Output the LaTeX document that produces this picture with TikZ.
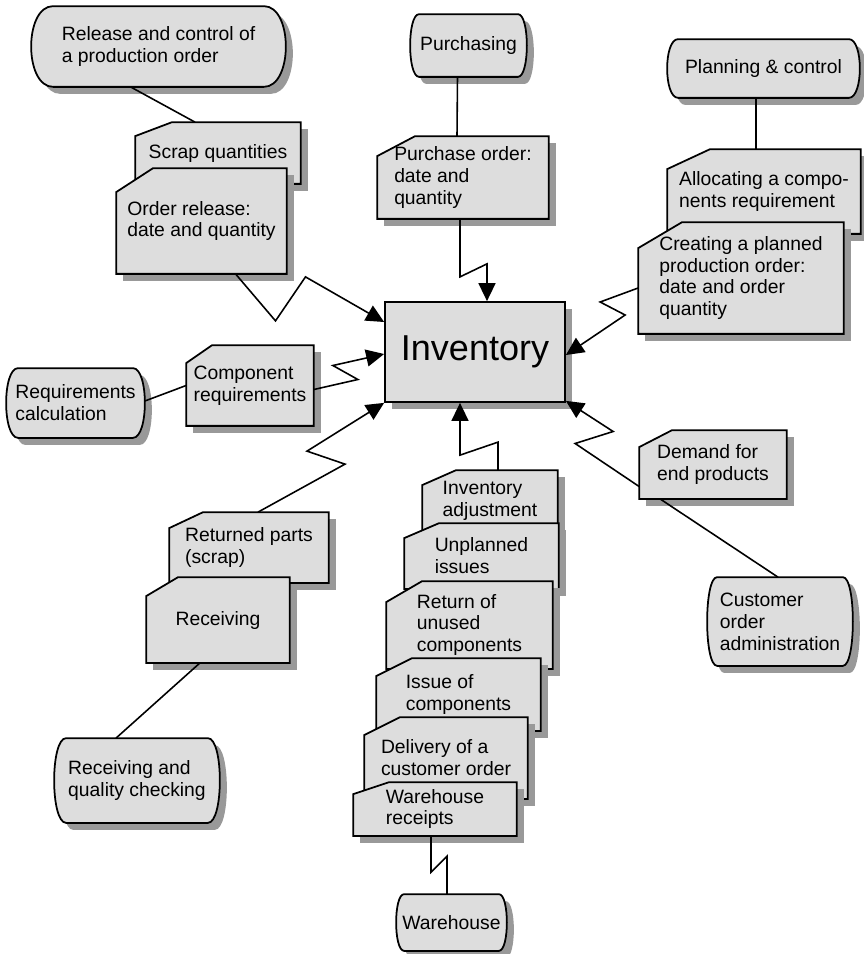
\documentclass[tikz,border=0pt]{standalone}
\usepackage{fontspec}
\setmainfont{Liberation Sans}
\usetikzlibrary{calc,shadows,arrows.meta}
\definecolor{boxgray}{HTML}{DDDDDD}
\definecolor{shadegray}{HTML}{999999}

\makeatletter
\newdimen\shpL \newdimen\shpR \newdimen\shpT \newdimen\shpB
\newdimen\shpa \newdimen\shpb
\pgfkeys{/pgf/side bulge/.initial=0.2cm,
         /pgf/cut x/.initial=0.72cm,
         /pgf/cut y/.initial=0.36cm}
% process box: straight top and bottom, bulging sides
\pgfdeclareshape{barrel}{%
  \inheritsavedanchors[from=rectangle]%
  \inheritanchorborder[from=rectangle]%
  \inheritanchor[from=rectangle]{center}%
  \inheritanchor[from=rectangle]{north}%
  \inheritanchor[from=rectangle]{south}%
  \inheritanchor[from=rectangle]{east}%
  \inheritanchor[from=rectangle]{west}%
  \inheritanchor[from=rectangle]{north east}%
  \inheritanchor[from=rectangle]{north west}%
  \inheritanchor[from=rectangle]{south east}%
  \inheritanchor[from=rectangle]{south west}%
  \backgroundpath{%
    \pgfmathsetlength\shpa{\pgfkeysvalueof{/pgf/side bulge}}%
    \shpb=\shpa \divide\shpb by 3
    \southwest \shpL=\pgf@x \shpB=\pgf@y
    \northeast \shpR=\pgf@x \shpT=\pgf@y
    \pgfpathmoveto{\pgfpoint{\shpL+\shpa}{\shpT}}%
    \pgfpathlineto{\pgfpoint{\shpR-\shpa}{\shpT}}%
    \pgfpathcurveto{\pgfpoint{\shpR+\shpb}{\shpT}}{\pgfpoint{\shpR+\shpb}{\shpB}}{\pgfpoint{\shpR-\shpa}{\shpB}}%
    \pgfpathlineto{\pgfpoint{\shpL+\shpa}{\shpB}}%
    \pgfpathcurveto{\pgfpoint{\shpL-\shpb}{\shpB}}{\pgfpoint{\shpL-\shpb}{\shpT}}{\pgfpoint{\shpL+\shpa}{\shpT}}%
    \pgfpathclose
  }%
}
% information object: rectangle with the top left corner cut off
\pgfdeclareshape{cutnote}{%
  \inheritsavedanchors[from=rectangle]%
  \inheritanchorborder[from=rectangle]%
  \inheritanchor[from=rectangle]{center}%
  \inheritanchor[from=rectangle]{north}%
  \inheritanchor[from=rectangle]{south}%
  \inheritanchor[from=rectangle]{east}%
  \inheritanchor[from=rectangle]{west}%
  \inheritanchor[from=rectangle]{north east}%
  \inheritanchor[from=rectangle]{north west}%
  \inheritanchor[from=rectangle]{south east}%
  \inheritanchor[from=rectangle]{south west}%
  \backgroundpath{%
    \pgfmathsetlength\shpa{\pgfkeysvalueof{/pgf/cut x}}%
    \pgfmathsetlength\shpb{\pgfkeysvalueof{/pgf/cut y}}%
    \southwest \shpL=\pgf@x \shpB=\pgf@y
    \northeast \shpR=\pgf@x \shpT=\pgf@y
    \pgfpathmoveto{\pgfpoint{\shpL}{\shpB}}%
    \pgfpathlineto{\pgfpoint{\shpL}{\shpT-\shpb}}%
    \pgfpathlineto{\pgfpoint{\shpL+\shpa}{\shpT}}%
    \pgfpathlineto{\pgfpoint{\shpR}{\shpT}}%
    \pgfpathlineto{\pgfpoint{\shpR}{\shpB}}%
    \pgfpathclose
  }%
}
\makeatother

\tikzset{
  shade/.style={drop shadow={shadow xshift=0.14cm,shadow yshift=-0.14cm,fill=shadegray,opacity=1}},
  func/.style={shape=barrel,draw,line width=1pt,fill=boxgray,shade,align=left,inner sep=1pt},
  info/.style={shape=cutnote,draw,line width=1pt,fill=boxgray,shade,align=left,inner sep=1pt},
  store/.style={rectangle,draw,line width=1pt,fill=boxgray,shade,font=\fontsize{20.5}{24}\selectfont},
  link/.style={line width=0.9pt},
  flow/.style={-{Triangle[length=0.36cm,width=0.34cm]},line width=0.9pt},
}

\begin{document}
\begin{tikzpicture}[x=0.02cm,y=-0.02cm,font=\fontsize{11}{12.5}\selectfont]
\useasboundingbox (0,0) rectangle (863,954);

% functions
\node[func,minimum width=5.06cm,minimum height=1.58cm,side bulge=0.44cm] (rel) at (158.5,46.5) {Release and control of\\a production order};
\node[func,minimum width=2.30cm,minimum height=1.22cm,side bulge=0.18cm] (pur) at (468.5,45.5) {Purchasing};
\node[func,minimum width=3.82cm,minimum height=1.14cm,side bulge=0.22cm] (plan) at (763.5,68.5) {Planning \& control};
\node[func,minimum width=2.74cm,minimum height=1.36cm,side bulge=0.24cm] (req) at (75.5,403) {Requirements\\calculation};
\node[func,minimum width=2.88cm,minimum height=1.74cm,side bulge=0.20cm] (cust) at (780,621.5) {Customer\\order\\administration};
\node[func,minimum width=3.28cm,minimum height=1.66cm,side bulge=0.24cm] (rqc) at (137,780.5) {Receiving and\\quality checking};
\node[func,minimum width=2.18cm,minimum height=1.10cm,side bulge=0.16cm] (wh) at (451.5,922.5) {Warehouse};

% information objects
\node[info,minimum width=3.28cm,minimum height=1.20cm,cut x=0.74cm,cut y=0.28cm] (scrap) at (218,153) {Scrap quantities};
\node[info,minimum width=3.38cm,minimum height=2.08cm,cut x=0.74cm,cut y=0.48cm] (ordrel) at (201.5,221) {Order release:\\date and quantity};
\node[info,minimum width=3.40cm,minimum height=1.62cm,cut x=0.76cm,cut y=0.40cm] (porder) at (463,177.5) {Purchase order:\\date and\\quantity};
\node[info,minimum width=3.84cm,minimum height=1.66cm,cut x=0.86cm,cut y=0.40cm] (alloc) at (764,191.5) {Allocating a compo-\\nents requirement};
\node[info,minimum width=4.08cm,minimum height=2.20cm,cut x=0.88cm,cut y=0.52cm] (create) at (741,278) {Creating a planned\\production order:\\date and order\\quantity};
\node[info,minimum width=2.52cm,minimum height=1.58cm,cut x=0.52cm,cut y=0.36cm] (comp) at (250,385.5) {Component\\requirements};
\node[info,minimum width=2.92cm,minimum height=1.34cm,cut x=0.66cm,cut y=0.34cm] (demand) at (713,464.5) {Demand for\\end products};
\node[info,minimum width=3.16cm,minimum height=1.38cm,cut x=0.68cm,cut y=0.32cm] (retp) at (249,547.5) {Returned parts\\(scrap)};
\node[info,minimum width=2.84cm,minimum height=1.68cm,cut x=0.64cm,cut y=0.38cm] (recv) at (218,620) {Receiving};
\node[info,minimum width=2.68cm,minimum height=1.18cm,cut x=0.68cm,cut y=0.30cm] (invadj) at (490,500.5) {Inventory\\adjustment};
\node[info,minimum width=3.06cm,minimum height=1.28cm,cut x=0.70cm,cut y=0.30cm] (unpl) at (481.5,556) {Unplanned\\issues};
\node[info,minimum width=3.30cm,minimum height=1.72cm,cut x=0.72cm,cut y=0.42cm] (ret) at (469.5,625) {Return of\\unused\\components};
\node[info,minimum width=3.26cm,minimum height=1.42cm,cut x=0.72cm,cut y=0.36cm] (issue) at (458.5,694.5) {Issue of\\components};
\node[info,minimum width=3.24cm,minimum height=1.60cm,cut x=0.72cm,cut y=0.36cm] (deliv) at (446,758) {Delivery of a\\customer order};
\node[info,minimum width=3.24cm,minimum height=1.04cm,cut x=0.72cm,cut y=0.24cm] (whr) at (435,809) {Warehouse\\receipts};

% the store in the middle
\node[store,minimum width=3.6cm,minimum height=2cm] (inv) at (475,352) {Inventory};

% plain links
\draw[link] ($(rel.south)+(-28,0)$) -- ($(scrap.north)+(-23,0)$);
\draw[link] ($(pur.south)+(-11,0)$) -- ($(porder.north)+(-6,0)$);
\draw[link] ($(plan.south)+(-7.5,0)$) -- ($(alloc.north)+(-8,0)$);
\draw[link] ($(req.east)+(0,-2)$) -- (comp.west);
\draw[link] ($(rqc.north)+(-21,0)$) -- ($(recv.south)+(-18,0)$);
\draw[link] ($(cust.north)+(-2,0)$) -- ($(demand.south)+(-53,0)$);
\draw[link] ($(wh.north)+(-4.5,0)$) -- ++(0,-38) -- ++(-16,16) -- ($(whr.south)+(-4,0)$);

% flows into the store
\draw[flow] ($(porder.south)+(-3,0)$) -- ++(0,58) -- ++(27,-13) -- ($(inv.north)+(12,0)$);
\draw[flow] ($(ordrel.south)+(34,0)$) -- ++(40,47) -- ++(30,-44) -- ($(inv.west)+(0,-30)$);
\draw[flow] ($(comp.east)+(0,4)$) -- ++(44,-10) -- ++(-25,-14) -- ($(inv.west)+(0,2)$);
\draw[flow] ($(retp.north)+(9,0)$) -- ++(87,-48) -- ++(-38,-13) -- (inv.south west);
\draw[flow] ($(invadj.north)+(8,0)$) -- ++(0,-28) -- ++(-38,13) -- ($(inv.south)+(-15,0)$);
\draw[flow] ($(create.west)+(0,10)$) -- ++(-38,14) -- ++(25,13) -- ($(inv.east)+(0,3)$);
\draw[flow] ($(demand.west)+(0,22)$) -- ++(-64,-43) -- ++(38,-12) -- ($(inv.south east)+(0,-2)$);
\end{tikzpicture}
\end{document}
